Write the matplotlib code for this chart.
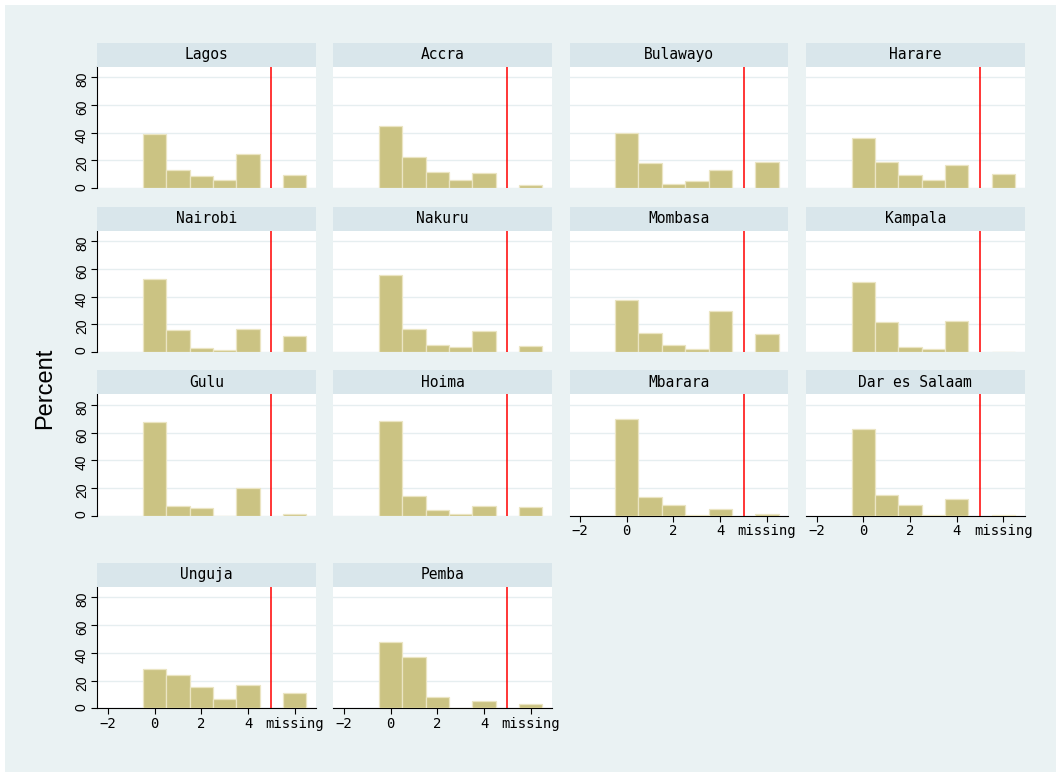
"""
Histogram by city - percent of responses per bin, with a 'missing' bin
"""

import matplotlib
matplotlib.use("Agg")
import matplotlib.pyplot as plt
from matplotlib.patches import Rectangle

# Data
cities = ["Lagos", "Accra", "Bulawayo", "Harare",
          "Nairobi", "Nakuru", "Mombasa", "Kampala",
          "Gulu", "Hoima", "Mbarara", "Dar es Salaam",
          "Unguja", "Pemba"]

bin_centers = [0, 1, 2, 3, 4, 6]          # 6 = "missing"
pct_0 = [38.9, 44.7, 39.6, 36.3, 52.6, 55.7, 37.2, 50.6, 67.5, 68.5, 69.8, 62.4, 28.0, 47.5]
pct_1 = [13.1, 22.6, 18.5, 19.2, 16.0, 16.4, 13.4, 21.5, 7.2, 14.1, 13.8, 15.2, 23.8, 37.1]
pct_2 = [9.1, 12.0, 3.1, 9.6, 2.9, 5.2, 5.0, 3.8, 5.5, 4.1, 7.9, 8.2, 15.2, 8.3]
pct_3 = [6.0, 6.0, 5.0, 6.0, 1.4, 3.6, 1.9, 2.4, 0.0, 1.2, 1.0, 0.7, 6.4, 0.0]
pct_4 = [24.6, 11.0, 13.0, 16.8, 16.4, 15.5, 29.8, 22.7, 19.8, 7.2, 5.2, 12.3, 16.9, 5.5]
pct_missing = [9.8, 2.2, 19.2, 10.1, 11.2, 4.3, 12.9, 0.0, 1.2, 6.2, 1.7, 0.7, 10.9, 2.9]

xtick_pos = [-2, 0, 2, 4, 6]
xtick_labels = ["\u22122", "0", "2", "4", "missing"]
ytick_pos = [0, 20, 40, 60, 80]
ytick_labels = ["0", "20", "40", "60", "80"]
cutoff = 5

# Colours
bg = "#eaf2f3"
strip_col = "#d9e6eb"
bar_col = "#cbc383"
bar_edge = "#ebe5c3"
grid_col = "#e6eef0"

W, H = 1056, 772
fig = plt.figure(figsize=(W / 100, H / 100), dpi=100, facecolor="white")
fig.patches.append(Rectangle((5 / W, 0), 1, 1 - 5 / H, transform=fig.transFigure,
                             facecolor=bg, edgecolor="none", zorder=-10))

# panel geometry in pixels
col_left = [97.3, 333.3, 569.5, 806.0]
panel_w = 218.5
row_top = [66.5, 230.7, 394.3, 586.7]
row_bot = [188.3, 352.0, 516.0, 708.3]
strip_h = 24.0

n = len(cities)
for i, city in enumerate(cities):
    r, c = divmod(i, 4)
    left = col_left[c] / W
    bottom = (H - row_bot[r]) / H
    height = (row_bot[r] - row_top[r]) / H
    ax = fig.add_axes([left, bottom, panel_w / W, height])
    ax.set_facecolor("white")

    vals = [pct_0[i], pct_1[i], pct_2[i], pct_3[i], pct_4[i], pct_missing[i]]
    ax.bar(bin_centers, vals, width=1.0, color=bar_col, edgecolor=bar_edge,
           linewidth=0.9, zorder=3)
    ax.axvline(cutoff, color="red", linewidth=1.1, zorder=4)

    ax.set_xlim(-2.45, 6.9)
    ax.set_ylim(0, 87.6)
    ax.grid(True, axis="y", color=grid_col, linewidth=1.0, zorder=0)
    ax.set_axisbelow(True)

    for s in ax.spines.values():
        s.set_visible(False)

    # y axis only in the first column
    if c == 0:
        ax.spines["left"].set_visible(True)
        ax.spines["left"].set_linewidth(0.8)
        ax.set_yticks(ytick_pos, labels=ytick_labels, family="Liberation Sans",
                      fontsize=10)
        ax.tick_params(axis="y", length=4, width=0.8, pad=2, labelrotation=90)
    else:
        ax.set_yticks(ytick_pos)
        ax.tick_params(axis="y", left=False, labelleft=False)

    # x axis only where nothing sits below
    if i + 4 >= n:
        ax.spines["bottom"].set_visible(True)
        ax.spines["bottom"].set_linewidth(0.8)
        ax.set_xticks(xtick_pos, labels=xtick_labels, family="DejaVu Sans Mono",
                      fontsize=10)
        ax.tick_params(axis="x", length=4, width=0.8, pad=2)
    else:
        ax.set_xticks(xtick_pos)
        ax.tick_params(axis="x", bottom=False, labelbottom=False)

    # strip header
    sax = fig.add_axes([left, (H - row_top[r]) / H, panel_w / W, strip_h / H])
    sax.set_facecolor(strip_col)
    sax.set_xticks([])
    sax.set_yticks([])
    for s in sax.spines.values():
        s.set_visible(False)
    sax.text(0.5, 0.5, city, ha="center", va="center", fontsize=10.5,
             family="DejaVu Sans Mono", transform=sax.transAxes)

fig.text(45 / W, 1 - 388 / H, "Percent", rotation=90, ha="center", va="center",
         fontsize=17, family="Liberation Sans")

plt.savefig("out.png", dpi=100, facecolor=fig.get_facecolor())
plt.close()
